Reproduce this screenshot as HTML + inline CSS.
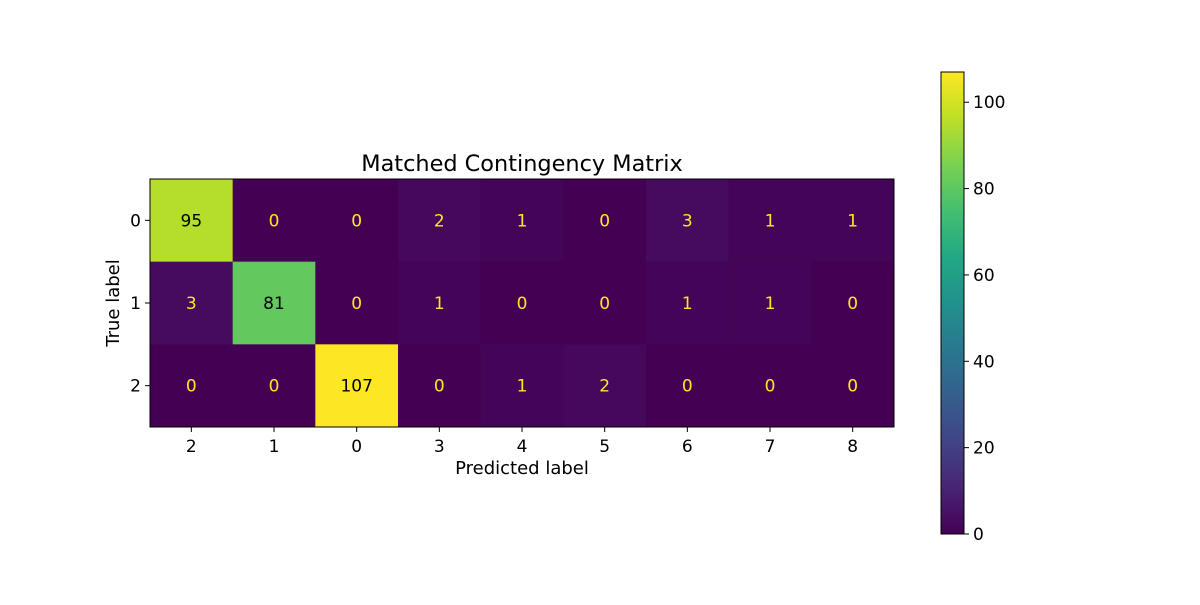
<!DOCTYPE html>
<html><head><meta charset="utf-8">
<style>
html,body{margin:0;padding:0;background:#fff;}
svg text{font-family:"DejaVu Sans","Liberation Sans",sans-serif;}
</style></head>
<body>
<svg id="chart" width="1200" height="600" viewBox="0 0 1200 600" xmlns="http://www.w3.org/2000/svg">
<defs>
<linearGradient id="vir" x1="0" y1="1" x2="0" y2="0">
<stop offset="0" stop-color="#440154"/><stop offset="0.1" stop-color="#482475"/>
<stop offset="0.2" stop-color="#414487"/><stop offset="0.3" stop-color="#355f8d"/>
<stop offset="0.4" stop-color="#2a788e"/><stop offset="0.5" stop-color="#21918c"/>
<stop offset="0.6" stop-color="#22a884"/><stop offset="0.7" stop-color="#44bf70"/>
<stop offset="0.8" stop-color="#7ad151"/><stop offset="0.9" stop-color="#bddf26"/>
<stop offset="1" stop-color="#fde725"/>
</linearGradient>
</defs>
<text x="522" y="171" font-size="22.4" text-anchor="middle">Matched Contingency Matrix</text>
<g id="cells"></g>
<g id="axes"></g>
<text x="522" y="474" font-size="18" text-anchor="middle">Predicted label</text>
<text x="0" y="0" font-size="18" text-anchor="middle" transform="translate(119,303) rotate(-90)">True label</text>
<rect x="941" y="72" width="23" height="462" fill="url(#vir)" stroke="#000" stroke-width="1"/>
<g id="cbticks"></g>
</svg>
<script>
const xCategories = ["2","1","0","3","4","5","6","7","8"];
const yCategories = ["0","1","2"];
const row0 = [95,0,0,2,1,0,3,1,1];
const row1 = [3,81,0,1,0,0,1,1,0];
const row2 = [0,0,107,0,1,2,0,0,0];
const cbTicks = [0,20,40,60,80,100];
const rows = [row0,row1,row2];
const vmin = 0, vmax = Math.max(...row0,...row1,...row2);
const X0=150,X1=894,Y0=179,Y1=427,CB0=534,CB1=72;
const cw=(X1-X0)/xCategories.length, ch=(Y1-Y0)/yCategories.length;
const xS=i=>X0+i*cw, yS=j=>Y0+j*ch, cbS=v=>CB0-(v-vmin)/(vmax-vmin)*(CB0-CB1);
const stops=["#440154","#482475","#414487","#355f8d","#2a788e","#21918c","#22a884","#44bf70","#7ad151","#bddf26","#fde725"];
function hex(h){return [1,3,5].map(k=>parseInt(h.substr(k,2),16));}
function vir(t){t=Math.max(0,Math.min(1,t));const p=t*10,i=Math.min(9,Math.floor(p)),f=p-i;
const a=hex(stops[i]),b=hex(stops[i+1]);return "rgb("+a.map((c,k)=>Math.round(c+(b[k]-c)*f)).join(",")+")";}
const NS="http://www.w3.org/2000/svg";
function mk(tag,attrs,parent){const e=document.createElementNS(NS,tag);for(const k in attrs)e.setAttribute(k,attrs[k]);parent.appendChild(e);return e;}
const cells=document.getElementById("cells"), axes=document.getElementById("axes"), cbt=document.getElementById("cbticks");
rows.forEach((r,j)=>r.forEach((v,i)=>{
  const t=(v-vmin)/(vmax-vmin);
  const rc=mk("rect",{x:xS(i),y:yS(j),width:cw+0.5,height:ch+0.5,fill:vir(t)},cells);
  
  
  const tx=mk("text",{x:xS(i)+cw/2,y:yS(j)+ch/2+6,"font-size":17,"text-anchor":"middle",fill:t>0.5?"#000":"#fde725"},cells);
  tx.textContent=v;
  
  
}));
const fr=mk("rect",{x:X0,y:Y0,width:X1-X0,height:Y1-Y0,fill:"none",stroke:"#000","stroke-width":1},axes);


xCategories.forEach((c,i)=>{const x=xS(i)+cw/2;
  mk("line",{x1:x,x2:x,y1:Y1,y2:Y1+5,stroke:"#000"},axes);
  const t=mk("text",{x:x,y:Y1+25,"font-size":17,"text-anchor":"middle"},axes);t.textContent=c;
  
  });
yCategories.forEach((c,j)=>{const y=yS(j)+ch/2;
  mk("line",{x1:X0-5,x2:X0,y1:y,y2:y,stroke:"#000"},axes);
  const t=mk("text",{x:X0-9,y:y+6,"font-size":17,"text-anchor":"end"},axes);t.textContent=c;
  
  });
cbTicks.forEach(v=>{const y=cbS(v);
  mk("line",{x1:964,x2:969,y1:y,y2:y,stroke:"#000"},cbt);
  const t=mk("text",{x:973,y:y+6,"font-size":17},cbt);t.textContent=v;
  
  });
</script>
</body></html>
